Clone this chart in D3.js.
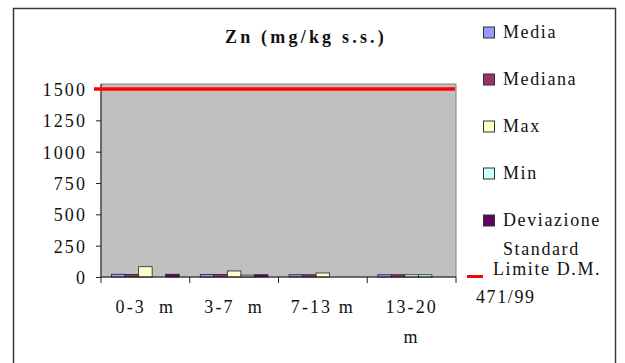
<!DOCTYPE html>
<html>
<head>
<meta charset="utf-8">
<script src="https://cdn.jsdelivr.net/npm/d3@7"></script>
<style>
  html, body { margin: 0; padding: 0; background: #fff; }
  svg text, svg tspan { font-family: 'Liberation Serif', serif !important; }
</style>
</head>
<body>
<svg id="chart" width="625" height="363" font-family="Liberation Serif, serif"></svg>
<script>
// Zinc concentrations per depth layer (mg/kg s.s.)
const categories = ["0-3  m", "3-7  m", "7-13 m", "13-20\nm"];
const seriesNames = ["Media", "Mediana", "Max", "Min", "Deviazione\nStandard"];
const media    = [22, 20, 18, 18];
const mediana  = [20, 20, 18, 18];
const maxVals  = [82, 48, 32, 18];
const minVals  = [null, 15, null, 18];
const devStd   = [22, 18, null, null];
const limitValue = 1500;               // Limite D.M. 471/99
const limitLabel = ["Limite D.M.", "471/99"];
const yTicks = [0, 250, 500, 750, 1000, 1250, 1500];
const title = "Zn (mg/kg s.s.)";

const colors = ["#9999FF", "#993366", "#FFFFCC", "#CCFFFF", "#660066"];
const series = [media, mediana, maxVals, minVals, devStd];
const serif = "'Liberation Serif', serif";
const fs = 18;
const ls = 2.1;

const svg = d3.select("#chart");

// small helper so each label is created with the serif face
function label(parent) {
  return parent.append("text")
    .attr("font-family", "Liberation Serif, serif")
    .style("font-family", serif)
    .attr("fill", "#111");
}

// outer chart frame
svg.append("rect")
  .attr("x", 13.5).attr("y", 8.5).attr("width", 602).attr("height", 370)
  .attr("fill", "#fff").attr("stroke", "#3a3a3a").attr("stroke-width", 1.5);

const plot = { left: 101, right: 456, top: 84, bottom: 277 };

const x = d3.scaleBand().domain(categories).range([plot.left, plot.right]).paddingInner(0).paddingOuter(0);
const xs = d3.scaleBand().domain(d3.range(series.length)).range([0, x.bandwidth()]).paddingInner(0).paddingOuter(0.78);
const y = d3.scaleLinear().domain([0, 1540]).range([plot.bottom, plot.top]);

// plot area
svg.append("rect")
  .attr("x", plot.left).attr("y", plot.top)
  .attr("width", plot.right - plot.left).attr("height", plot.bottom - plot.top)
  .attr("fill", "#C0C0C0").attr("stroke", "#808080").attr("stroke-width", 1);

// title
label(svg)
  .attr("x", 306).attr("y", 43)
  .attr("text-anchor", "middle")
  .attr("font-size", 18).attr("font-weight", "bold")
  .attr("letter-spacing", 3.2)
  .text(title);

// bars
const groups = svg.append("g").selectAll("g")
  .data(categories).join("g")
  .attr("transform", d => `translate(${x(d)},0)`);

groups.selectAll("rect")
  .data((d, i) => series.map((s, k) => ({ k, v: s[i] })).filter(e => e.v != null))
  .join("rect")
  .attr("x", d => xs(d.k))
  .attr("width", xs.bandwidth())
  .attr("y", d => y(d.v))
  .attr("height", d => y(0) - y(d.v))
  .attr("fill", d => colors[d.k])
  .attr("stroke", "#222").attr("stroke-width", 0.8);

// y axis: scale ticks drawn by d3, labels set in the serif face
const yAxis = svg.append("g")
  .attr("transform", `translate(${plot.left},0)`)
  .call(d3.axisLeft(y).tickValues(yTicks).tickSize(5).tickPadding(9).tickFormat(d3.format("d")))
  .attr("font-family", "Liberation Serif, serif")
  .attr("font-size", fs);
yAxis.select(".domain").attr("stroke", "#222").attr("d", `M0,${plot.top}V${plot.bottom}`);
yAxis.selectAll(".tick line").attr("stroke", "#222");
yAxis.selectAll("text")
  .attr("dy", "0.36em").attr("fill", "#111")
  .attr("letter-spacing", ls)
  .attr("font-family", "Liberation Serif, serif")
  .style("font-family", serif);

// x axis line and category separators
svg.append("line")
  .attr("x1", plot.left).attr("x2", plot.right)
  .attr("y1", plot.bottom).attr("y2", plot.bottom)
  .attr("stroke", "#222");
const sepPositions = categories.map(c => x(c)).concat([plot.right]);
svg.append("g").selectAll("line")
  .data(sepPositions).join("line")
  .attr("x1", d => d).attr("x2", d => d)
  .attr("y1", plot.bottom).attr("y2", plot.bottom + 6)
  .attr("stroke", "#222");

// category labels
const catG = svg.append("g");
categories.forEach(c => {
  const cx = x(c) + x.bandwidth() / 2;
  const t = label(catG)
    .attr("x", cx).attr("y", 313)
    .attr("text-anchor", "middle")
    .attr("font-size", fs)
    .attr("letter-spacing", ls)
    .attr("xml:space", "preserve");
  c.split("\n").forEach((line, i) => {
    t.append("tspan").attr("x", cx).attr("dy", i === 0 ? 0 : 30).text(line.replace(/ {2}/g, "\u00a0 "));
  });
});

// limit line
svg.append("line")
  .attr("x1", plot.left - 7).attr("x2", plot.right - 1)
  .attr("y1", y(limitValue)).attr("y2", y(limitValue))
  .attr("stroke", "#FF0000").attr("stroke-width", 3.3);

// legend
const legendY = [32.5, 79.5, 126.5, 173.5, 220.5];
const legend = svg.append("g");
seriesNames.forEach((name, k) => {
  legend.append("rect")
    .attr("x", 483.5).attr("y", legendY[k] - 5.5)
    .attr("width", 11).attr("height", 11)
    .attr("fill", colors[k]).attr("stroke", "#333").attr("stroke-width", 1);
  const t = label(legend)
    .attr("x", 503).attr("y", legendY[k] + 5)
    .attr("font-size", fs)
    .attr("letter-spacing", 1.6);
  name.split("\n").forEach((line, i) => {
    t.append("tspan").attr("x", 503).attr("dy", i === 0 ? 0 : 29).text(line);
  });
});
legend.append("line")
  .attr("x1", 467).attr("x2", 483)
  .attr("y1", 276.5).attr("y2", 276.5)
  .attr("stroke", "#FF0000").attr("stroke-width", 3);
label(legend)
  .attr("x", 493).attr("y", 275)
  .attr("font-size", fs).attr("letter-spacing", 1.6)
  .text(limitLabel[0]);
label(legend)
  .attr("x", 476).attr("y", 303)
  .attr("font-size", fs).attr("letter-spacing", 1.6)
  .text(limitLabel[1]);
</script>
</body>
</html>
